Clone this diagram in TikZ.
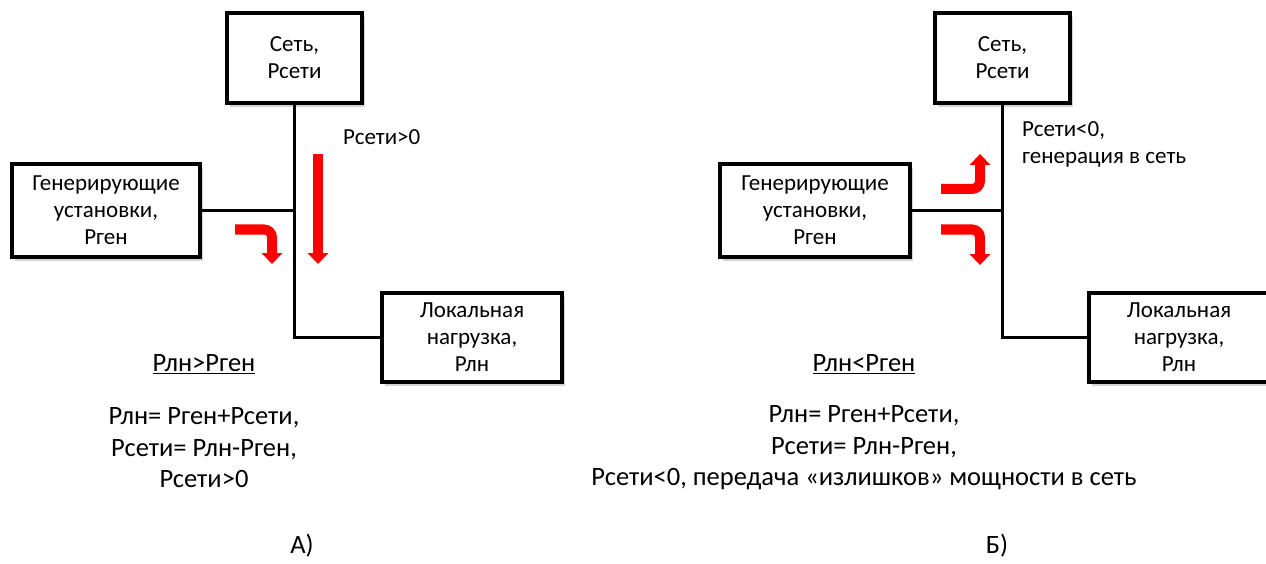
\documentclass[tikz,border=0pt]{standalone}
\usepackage{fontspec}
\setmainfont{Carlito}
\usetikzlibrary{arrows.meta,shadows}

\tikzset{
  blok/.style={draw,line width=4pt,fill=white,align=center,inner sep=0pt,
    font=\fontsize{23}{27}\selectfont,
    drop shadow={shadow xshift=3pt,shadow yshift=-4pt,opacity=.35}},
  wire/.style={line width=3pt},
  potok/.style={red,line width=10pt,rounded corners=8pt,
    -{Triangle[width=21pt,length=11pt,line width=0pt]}},
  txt/.style={align=center,inner sep=0pt,font=\fontsize{26.5}{31.5}\selectfont}
}

\begin{document}
\begin{tikzpicture}[x=1pt,y=-1pt]
\useasboundingbox (0,0) rectangle (1266,564);

% A) Pln > Pgen
\node[blok,minimum width=135,minimum height=90] (netA) at (294.5,58) {Сеть,\\Рсети};
\node[blok,minimum width=188,minimum height=92] (genA) at (106,210.5) {Генерирующие\\установки,\\Рген};
\node[blok,minimum width=180,minimum height=89] (loadA) at (472,337.5) {Локальная\\нагрузка,\\Рлн};
\draw[wire] (netA.south) |- (loadA.west);
\draw[wire] (genA.east) -- (genA.east -| netA.south);

\coordinate (a1) at (235,229.5);
\coordinate (a2) at (272,264);
\coordinate (a3) at (318,154);
\coordinate (a4) at (318,264);
\draw[potok] (a1) -| (a2);
\draw[potok] (a3) -- (a4);

\node[txt,anchor=west,font=\fontsize{23}{27}\selectfont] (lblA) at (343,137) {Рсети>0};
\node[txt] (condA) at (204,364) {\underline{Рлн>Рген}};
\node[txt] (eqA) at (204,448) {Рлн= Рген+Рсети,\\Рсети= Рлн-Рген,\\Рсети>0};
\node[txt] (capA) at (302,546) {А)};

% B) Pln < Pgen
\node[blok,minimum width=135,minimum height=90] (netB) at (1002.5,58) {Сеть,\\Рсети};
\node[blok,minimum width=190,minimum height=92] (genB) at (815,210.5) {Генерирующие\\установки,\\Рген};
\node[blok,minimum width=180,minimum height=89] (loadB) at (1179,337.5) {Локальная\\нагрузка,\\Рлн};
\draw[wire] (netB.south) |- (loadB.west);
\draw[wire] (genB.east) -- (genB.east -| netB.south);

\coordinate (b1) at (941,189);
\coordinate (b2) at (980,154);
\coordinate (b3) at (941,229.5);
\coordinate (b4) at (980,265);
\draw[potok] (b1) -| (b2);
\draw[potok] (b3) -| (b4);

\node[txt,anchor=west,align=left,font=\fontsize{23}{27}\selectfont] (lblB) at (1022,144) {Рсети<0,\\генерация в сеть};
\node[txt] (condB) at (864,364) {\underline{Рлн<Рген}};
\node[txt] (eqB) at (864,448) {Рлн= Рген+Рсети,\\Рсети= Рлн-Рген,\\Рсети<0, передача «излишков» мощности в сеть};
\node[txt] (capB) at (997,546) {Б)};
\end{tikzpicture}
\end{document}
